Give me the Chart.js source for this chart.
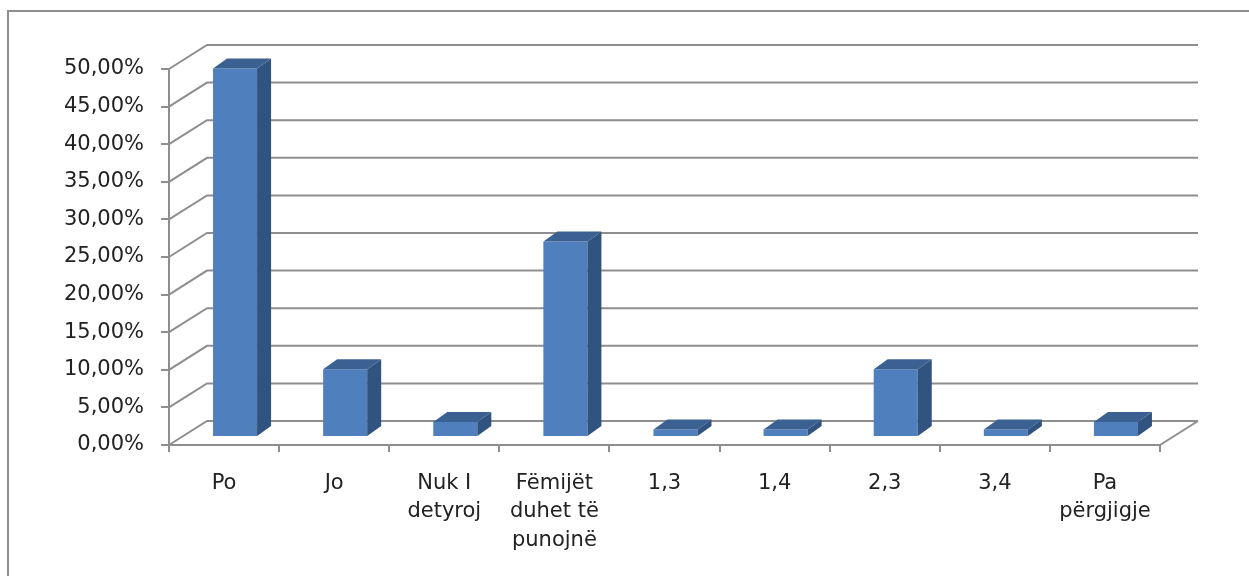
<!DOCTYPE html>
<html lang="sq">
<head>
    <meta charset="UTF-8">
    <title>Grafik me shtylla</title>
    <script src="https://cdn.jsdelivr.net/npm/chart.js"></script>
    <style>
        body { margin: 0; background: #fff; }
        #wrap { position: relative; width: 1249px; height: 576px; }
    </style>
</head>
<body>

<div id="wrap">
    <canvas id="myChart" width="1249" height="576"></canvas>
</div>

<script>
// kategoritë dhe vlerat (në %)
const categories = ['Po', 'Jo', ['Nuk I', 'detyroj'], ['Fëmijët', 'duhet të', 'punojnë'], '1,3', '1,4', '2,3', '3,4', ['Pa', 'përgjigje']];
const values = [49, 9, 2, 26, 1, 1, 9, 1, 2];
const yTicks = [0, 5, 10, 15, 20, 25, 30, 35, 40, 45, 50];

const gridColor = '#8e8e8e';
const BACK = { dx: 38, dy: -24 };   // zhvendosja e murit të pasëm
const FRONT = { dx: 11, dy: -8 };   // faqja e përparme e shtyllës
const SIDE = { dx: 14, dy: -10 };   // thellësia e shtyllës

// plugin për efektin 3D
const depth3d = {
    id: 'depth3d',
    beforeDraw(chart) {
        const ctx = chart.ctx;
        ctx.save();
        ctx.strokeStyle = gridColor;
        ctx.lineWidth = 2;
        ctx.beginPath();
        ctx.moveTo(8, 576);
        ctx.lineTo(8, 11);
        ctx.lineTo(1249, 11);
        ctx.stroke();
        ctx.restore();
    },
    beforeDatasetsDraw(chart) {
        const { ctx, chartArea, scales: { y } } = chart;
        ctx.save();
        ctx.strokeStyle = gridColor;
        ctx.lineWidth = 2;
        yTicks.forEach(v => {
            const py = y.getPixelForValue(v);
            ctx.beginPath();
            ctx.moveTo(chartArea.left, py);
            ctx.lineTo(chartArea.left + BACK.dx, py + BACK.dy);
            ctx.lineTo(chartArea.right + BACK.dx, py + BACK.dy);
            ctx.stroke();
        });
        // dyshemeja djathtas
        ctx.beginPath();
        ctx.moveTo(chartArea.right, chartArea.bottom);
        ctx.lineTo(chartArea.right + BACK.dx, chartArea.bottom + BACK.dy);
        ctx.stroke();
        ctx.restore();

        ctx.save();
        ctx.translate(FRONT.dx, FRONT.dy);
    },
    afterDatasetsDraw(chart) {
        const ctx = chart.ctx;
        ctx.restore();
        const meta = chart.getDatasetMeta(0);
        ctx.save();
        meta.data.forEach(bar => {
            const l = bar.x - bar.width / 2 + FRONT.dx;
            const r = bar.x + bar.width / 2 + FRONT.dx;
            const t = bar.y + FRONT.dy;
            const b = bar.base + FRONT.dy;
            // ana e djathtë
            ctx.fillStyle = '#31537f';
            ctx.beginPath();
            ctx.moveTo(r, t);
            ctx.lineTo(r + SIDE.dx, t + SIDE.dy);
            ctx.lineTo(r + SIDE.dx, b + SIDE.dy);
            ctx.lineTo(r, b);
            ctx.closePath();
            ctx.fill();
            // maja
            ctx.fillStyle = '#3b6193';
            ctx.beginPath();
            ctx.moveTo(l, t);
            ctx.lineTo(l + SIDE.dx, t + SIDE.dy);
            ctx.lineTo(r + SIDE.dx, t + SIDE.dy);
            ctx.lineTo(r, t);
            ctx.closePath();
            ctx.fill();
        });
        ctx.restore();
    }
};

const ctx = document.getElementById('myChart').getContext('2d');
const myChart = new Chart(ctx, {
    type: 'bar',
    data: {
        labels: categories,
        datasets: [{
            data: values,
            backgroundColor: '#4f7fbd',
            borderWidth: 0,
            barPercentage: 0.4,
            categoryPercentage: 1,
            clip: false
        }]
    },
    options: {
        responsive: false,
        animation: false,
        layout: { padding: { top: 69, right: 89, bottom: 0, left: 0 } },
        plugins: {
            legend: { display: false },
            tooltip: { enabled: false }
        },
        scales: {
            y: {
                min: 0,
                max: 50,
                afterFit: s => { s.width = 169; },
                afterBuildTicks: s => { s.ticks = yTicks.map(v => ({ value: v })); },
                grid: { drawOnChartArea: false, color: gridColor, lineWidth: 2, tickLength: 8 },
                border: { color: gridColor, width: 2 },
                ticks: {
                    padding: 17,
                    color: '#222',
                    font: { family: 'DejaVu Sans', size: 21 },
                    callback: v => v.toFixed(2).replace('.', ',') + '%'
                }
            },
            x: {
                afterFit: s => { s.height = 131; },
                grid: { drawOnChartArea: false, offset: true, color: gridColor, lineWidth: 2, tickLength: 7 },
                border: { color: gridColor, width: 2 },
                ticks: {
                    padding: 17,
                    maxRotation: 0,
                    autoSkip: false,
                    color: '#222',
                    font: { family: 'DejaVu Sans', size: 21, lineHeight: 1.36 }
                }
            }
        }
    },
    plugins: [depth3d]
});
</script>

</body>
</html>
